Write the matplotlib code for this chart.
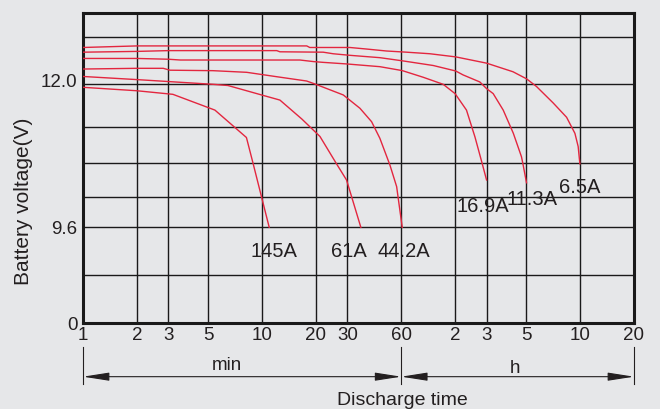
import numpy as np
import matplotlib
matplotlib.use('Agg')
import matplotlib.pyplot as plt
from matplotlib import font_manager
from matplotlib.transforms import ScaledTranslation

# Grid levels of the (non-uniform) voltage axis and their relative heights
V_LEVELS = [0, 4.8, 9.6, 10.2, 10.8, 11.4, 12.0, 12.6, 12.9]
V_HEIGHTS = [0, 48, 96, 126.6, 160, 196, 239, 286, 310.3]
Y_TICK_LABELS = ['0', '', '9.6', '', '', '', '12.0', '', '']

# Discharge time ticks (minutes) and labels
T_TICKS = [1, 2, 3, 5, 10, 20, 30, 60, 120, 180, 300, 600, 1200]
T_LABELS = ['1', '2', '3', '5', '10', '20', '30', '60', '2', '3', '5', '10', '20']

# Discharge curves: time (min) and voltage (V)
t_6_5 = [1, 2, 3, 6.6, 17.8, 18.5, 31, 38.5, 49.7, 64.3, 86.8, 121, 180, 253, 301, 342, 424, 504, 561, 585, 598]
v_6_5 = [12.47, 12.49, 12.49, 12.49, 12.49, 12.47, 12.47, 12.45, 12.425, 12.41, 12.39, 12.35, 12.27, 12.16,
         12.07, 11.97, 11.74, 11.54, 11.30, 11.08, 10.79]

t_11_3 = [1, 2, 3, 12.1, 12.6, 22, 25, 31, 45.6, 60.8, 90.6, 121, 133, 165, 180, 196, 223, 254, 282, 287, 301]
v_11_3 = [12.41, 12.42, 12.43, 12.43, 12.415, 12.41, 12.39, 12.37, 12.34, 12.30, 12.24, 12.17, 12.12, 12.03,
          11.94, 11.87, 11.64, 11.30, 10.91, 10.8, 10.45]

t_16_9 = [1, 2, 3, 3.5, 16.3, 19.4, 22, 29.7, 45.6, 60.8, 79.6, 103, 120, 139, 155, 170, 180]
v_16_9 = [12.33, 12.33, 12.32, 12.31, 12.31, 12.29, 12.28, 12.26, 12.225, 12.175, 12.09, 12.0, 11.87, 11.64,
          11.24, 10.8, 10.5]

t_44_2 = [1, 2, 2.81, 3.06, 5.32, 8.22, 12.08, 17.77, 19.78, 28.5, 35.3, 41.0, 45.6, 51.9, 56.6, 57.6, 60.8]
v_44_2 = [12.195, 12.204, 12.204, 12.18, 12.174, 12.153, 12.097, 12.042, 12.004, 11.851, 11.665, 11.478,
          11.217, 10.769, 10.38, 10.2, 9.6]

t_61 = [1, 2, 5.32, 6.46, 9.96, 12.6, 16.7, 21.1, 26.0, 29.7, 31.7, 35.7]
v_61 = [12.10, 12.06, 12.0, 11.983, 11.851, 11.78, 11.516, 11.247, 10.8, 10.5, 10.2, 9.6]

t_145 = [1, 2, 3.18, 5.46, 8.19, 8.92, 9.94, 10.98]
v_145 = [11.958, 11.91, 11.86, 11.64, 11.23, 10.8, 10.2, 9.6]

curves = [('6.5A', t_6_5, v_6_5), ('11.3A', t_11_3, v_11_3), ('16.9A', t_16_9, v_16_9),
          ('44.2A', t_44_2, v_44_2), ('61A', t_61, v_61), ('145A', t_145, v_145)]

# where each current label sits (time, voltage at baseline)
label_pos = {'145A': (11.67, 6.63), '61A': (30.6, 6.63), '44.2A': (62.1, 6.63),
             '16.9A': (171.7, 9.906), '11.3A': (321, 10.037), '6.5A': (598, 10.272)}

BG = '#e6e7e9'
RED = '#e3263f'
INK = '#231f20'

names = {f.name for f in font_manager.fontManager.ttflist}
narrow = 'Liberation Sans Narrow' if 'Liberation Sans Narrow' in names else 'Liberation Sans'
narrow_size = 15.8 if narrow == 'Liberation Sans Narrow' else 14.5
plt.rcParams['font.family'] = ['Liberation Sans', 'DejaVu Sans']


def fwd(v):
    return np.interp(v, V_LEVELS, V_HEIGHTS)


def inv(p):
    return np.interp(p, V_HEIGHTS, V_LEVELS)


fig = plt.figure(figsize=(6.6, 4.09), dpi=100, facecolor=BG)
ax = fig.add_axes([83 / 660, 1 - 323.3 / 409, 551 / 660, 310.3 / 409])
ax.set_facecolor(BG)

for name, t, v in curves:
    ax.plot(t, v, color=RED, lw=1.0, zorder=3)
    lx, ly = label_pos[name]
    ax.text(lx, ly, name, ha='center', va='baseline', family=narrow, fontsize=narrow_size,
            color=INK, zorder=4)

ax.set_xscale('log')
ax.set_yscale('function', functions=(fwd, inv))
ax.set_xlim(1, 1200)
ax.set_ylim(0, 12.9)

ax.set_xticks(T_TICKS)
ax.set_xticklabels(T_LABELS)
ax.xaxis.set_minor_locator(matplotlib.ticker.NullLocator())
ax.set_yticks(V_LEVELS)
ax.set_yticklabels(Y_TICK_LABELS)
ax.yaxis.set_minor_locator(matplotlib.ticker.NullLocator())
ax.tick_params(axis='both', length=0, labelsize=13.5, colors=INK)
ax.tick_params(axis='x', pad=3)
ax.tick_params(axis='y', pad=4)
ax.grid(True, color='#1a1a1a', lw=1.0, zorder=1)

for s in ax.spines.values():
    s.set_linewidth(2.2)
    s.set_color('#1a1a1a')

# nudge the 12.0 label up a little like the original
for lab in ax.get_yticklabels():
    if lab.get_text() == '12.0':
        lab.set_transform(lab.get_transform() + ScaledTranslation(0, 0.04, fig.dpi_scale_trans))

# dimension lines under the x axis
trans = ax.get_xaxis_transform()
y_line = -0.172
for x in [1, 60, 1200]:
    ax.plot([x, x], [-0.0754, -0.1956], transform=trans, color=INK, lw=0.8, clip_on=False)
arrow = dict(arrowstyle='<|-|>,head_length=1.6,head_width=0.25', color=INK, lw=0.8,
             shrinkA=0, shrinkB=0)
ax.annotate('', xy=(1, y_line), xytext=(60, y_line), xycoords=trans, textcoords=trans,
            arrowprops=arrow, annotation_clip=False)
ax.annotate('', xy=(60, y_line), xytext=(1200, y_line), xycoords=trans, textcoords=trans,
            arrowprops=arrow, annotation_clip=False)
ax.text(6.35, -0.1505, 'min', transform=trans, ha='center', va='baseline', fontsize=13.5, color=INK)
ax.text(258, -0.1592, 'h', transform=trans, ha='center', va='baseline', fontsize=13.5, color=INK)

fig.text(402.6 / 660, 1 - 405 / 409, 'Discharge time', ha='center', va='baseline',
         fontsize=14, color=INK)
fig.text(23.3 / 660, 1 - 201.5 / 409, 'Battery voltage(V)', rotation=90, ha='center',
         va='center', fontsize=15, color=INK)

fig.savefig('out.png', dpi=100, facecolor=BG)
